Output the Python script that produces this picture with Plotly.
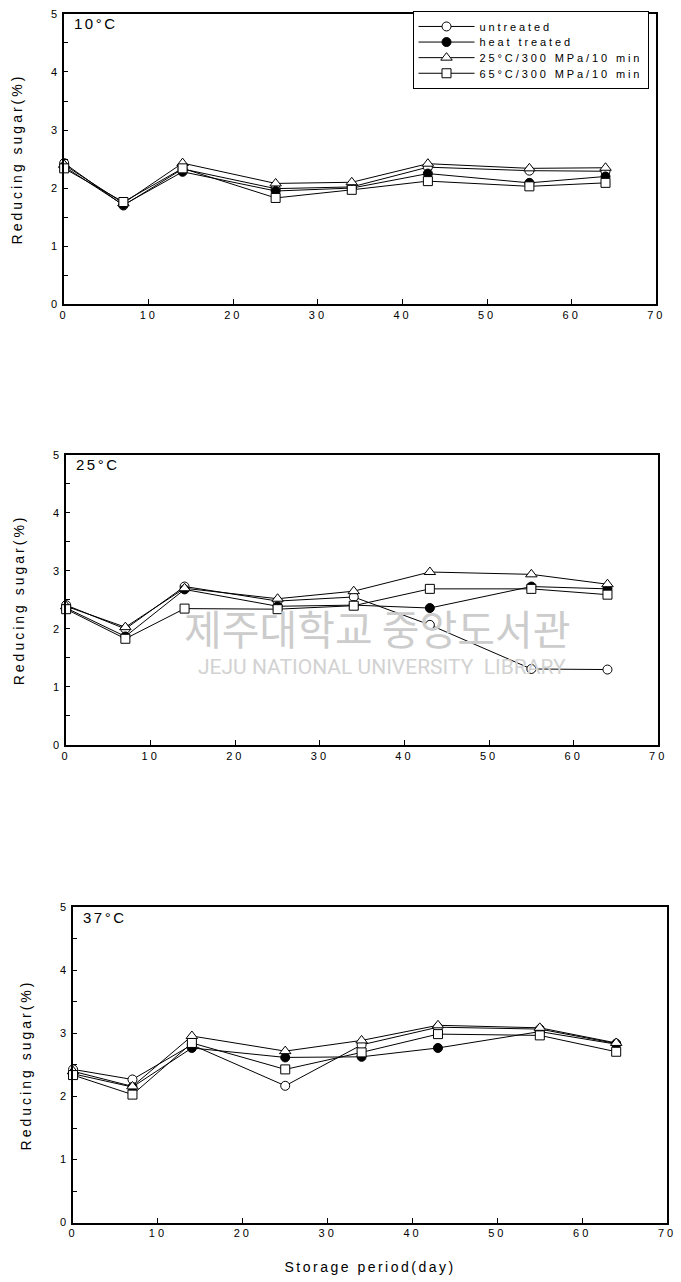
import plotly.graph_objects as go

# Storage days (x) shared by all panels
days = [0, 7, 14, 25, 34, 43, 55, 64]

series_names = ["untreated", "heat treated", "25°C/300 MPa/10 min", "65°C/300 MPa/10 min"]

# Reducing sugar (%) at 10 °C
t10_untreated = [2.43, 1.70, 2.33, 1.99, 2.02, 2.36, 2.30, 2.29]
t10_heat = [2.37, 1.71, 2.28, 1.95, 2.00, 2.25, 2.09, 2.20]
t10_hp25 = [2.40, 1.74, 2.43, 2.08, 2.10, 2.42, 2.34, 2.35]
t10_hp65 = [2.34, 1.76, 2.34, 1.83, 1.97, 2.12, 2.03, 2.09]

# Reducing sugar (%) at 25 °C
t25_untreated = [2.41, 2.00, 2.73, 2.48, 2.55, 2.07, 1.31, 1.30]
t25_heat = [2.36, 1.87, 2.68, 2.39, 2.41, 2.36, 2.73, 2.69]
t25_hp25 = [2.39, 2.03, 2.70, 2.52, 2.65, 2.98, 2.94, 2.77]
t25_hp65 = [2.34, 1.83, 2.35, 2.34, 2.40, 2.69, 2.69, 2.59]

# Reducing sugar (%) at 37 °C
t37_untreated = [2.43, 2.27, 2.82, 2.17, 2.82, 3.10, 3.07, 2.84]
t37_heat = [2.36, 2.15, 2.77, 2.62, 2.63, 2.77, 3.03, 2.83]
t37_hp25 = [2.40, 2.16, 2.96, 2.72, 2.89, 3.13, 3.09, 2.85]
t37_hp65 = [2.34, 2.03, 2.85, 2.43, 2.70, 2.99, 2.97, 2.71]

panel_labels = ["10°C", "25°C", "37°C"]
panel_data = [
    [t10_untreated, t10_heat, t10_hp25, t10_hp65],
    [t25_untreated, t25_heat, t25_hp25, t25_hp65],
    [t37_untreated, t37_heat, t37_hp25, t37_hp65],
]

x_ticks = [0, 10, 20, 30, 40, 50, 60, 70]
y_ticks = [0, 1, 2, 3, 4, 5]

W, H = 681, 1282
FONT = "Liberation Sans, Arial, sans-serif"

# plot boxes in pixels: left, right, top, bottom
boxes = [(62, 662, 8, 301), (64, 664, 453, 746), (71, 673, 910, 1228)]

marker_styles = [
    dict(symbol="circle", color="white", size=9, line=dict(color="black", width=1)),
    dict(symbol="circle", color="black", size=9, line=dict(color="black", width=1)),
    dict(symbol="triangle-up", color="white", size=10, line=dict(color="black", width=1)),
    dict(symbol="square", color="white", size=9, line=dict(color="black", width=1)),
]

fig = go.Figure()

for p, series in enumerate(panel_data):
    sfx = "" if p == 0 else str(p + 1)
    for s, vals in enumerate(series):
        fig.add_trace(go.Scatter(
            x=days, y=vals, name=series_names[s],
            mode="lines+markers",
            line=dict(color="black", width=1),
            marker=marker_styles[s],
            cliponaxis=False,
            showlegend=(p == 0),
            xaxis="x" + sfx, yaxis="y" + sfx,
        ))

layout = dict(
    width=W, height=H,
    margin=dict(l=0, r=0, t=0, b=0),
    paper_bgcolor="white", plot_bgcolor="white",
    font=dict(family=FONT, color="black", size=11),
    legend=dict(
        x=415 / W, y=1 - 5 / H, xanchor="left", yanchor="top",
        bordercolor="black", borderwidth=1, bgcolor="white",
        font=dict(size=11, family=FONT), itemwidth=56,
        tracegroupgap=0,
    ),
    annotations=[],
)

for p, (l, r, t, b) in enumerate(boxes):
    sfx = "" if p == 0 else str(p + 1)
    xa = dict(
        domain=[l / W, r / W], anchor="y" + sfx, range=[0, 70],
        tickvals=x_ticks, ticks="inside", ticklen=5, tickwidth=1, tickcolor="black",
        showline=True, linecolor="black", linewidth=1.5, mirror=True,
        showgrid=False, zeroline=False, tickfont=dict(size=11, family=FONT),
    )
    if p == 2:
        xa["title"] = dict(text="Storage period(day)", font=dict(size=14, family=FONT), standoff=24)
    ya = dict(
        domain=[1 - b / H, 1 - t / H], anchor="x" + sfx, range=[0, 5],
        tickvals=y_ticks, ticks="inside", ticklen=4, tickwidth=1, tickcolor="black",
        minor=dict(dtick=0.5, ticks="inside", ticklen=4, tickwidth=1, tickcolor="black"),
        showline=True, linecolor="black", linewidth=1.5, mirror=True,
        showgrid=False, zeroline=False, tickfont=dict(size=11, family=FONT),
        title=dict(text="Reducing sugar(%)", font=dict(size=14, family=FONT), standoff=28),
    )
    layout["xaxis" + sfx] = xa
    layout["yaxis" + sfx] = ya
    layout["annotations"].append(dict(
        text=panel_labels[p], xref="paper", yref="paper",
        x=(l + 13) / W, y=1 - (t + 10) / H, xanchor="left", yanchor="middle",
        showarrow=False, font=dict(size=15, family=FONT),
    ))

# library watermark across the middle panel
layout["annotations"].append(dict(
    text="제주대학교 중앙도서관", xref="paper", yref="paper",
    x=379 / W, y=1 - 627 / H, xanchor="center", yanchor="middle", showarrow=False,
    font=dict(size=41, family="Noto Sans CJK KR", color="#cccccc"),
))
layout["annotations"].append(dict(
    text="JEJU NATIONAL UNIVERSITY  LIBRARY", xref="paper", yref="paper",
    x=384 / W, y=1 - 667 / H, xanchor="center", yanchor="middle", showarrow=False,
    font=dict(size=21, family="Roboto", color="#d2d2d2"),
))

fig.update_layout(**layout)

# wide character spacing for labels; the legend font is re-set afterwards so its
# box is measured again with the spacing applied, then its rows are packed closer
post = """
var gd = document.getElementById('{plot_id}');
var st = document.createElement('style');
st.textContent =
  '.legendtext{letter-spacing:2.9px}' +
  'g.xtick text, g.x2tick text, g.x3tick text, g.ytick text, g.y2tick text, g.y3tick text{letter-spacing:3px}' +
  '.ytitle, .y2title, .y3title{letter-spacing:3px}' +
  '.x3title{letter-spacing:2.5px}';
document.head.appendChild(st);
document.querySelectorAll('.annotation-text').forEach(function(t){
  if (t.textContent.indexOf('°C') >= 0) { t.style.letterSpacing = '2.5px'; }
});
Plotly.relayout(gd, {'legend.font.family': 'Liberation Sans, Arial'}).then(function(){
  var rows = gd.querySelectorAll('.legend .traces');
  var y0 = null;
  rows.forEach(function(r, i){
    var m = /translate\\(([-\\d.]+)[ ,]+([-\\d.]+)\\)/.exec(r.getAttribute('transform'));
    if (!m) return;
    if (y0 === null) y0 = parseFloat(m[2]);
    r.setAttribute('transform', 'translate(' + m[1] + ',' + (y0 + 15.6 * i) + ')');
  });
  var bg = gd.querySelector('.legend rect.bg');
  if (bg) bg.setAttribute('height', 77);
});
"""
fig.write_html("out.html", post_script=post)
